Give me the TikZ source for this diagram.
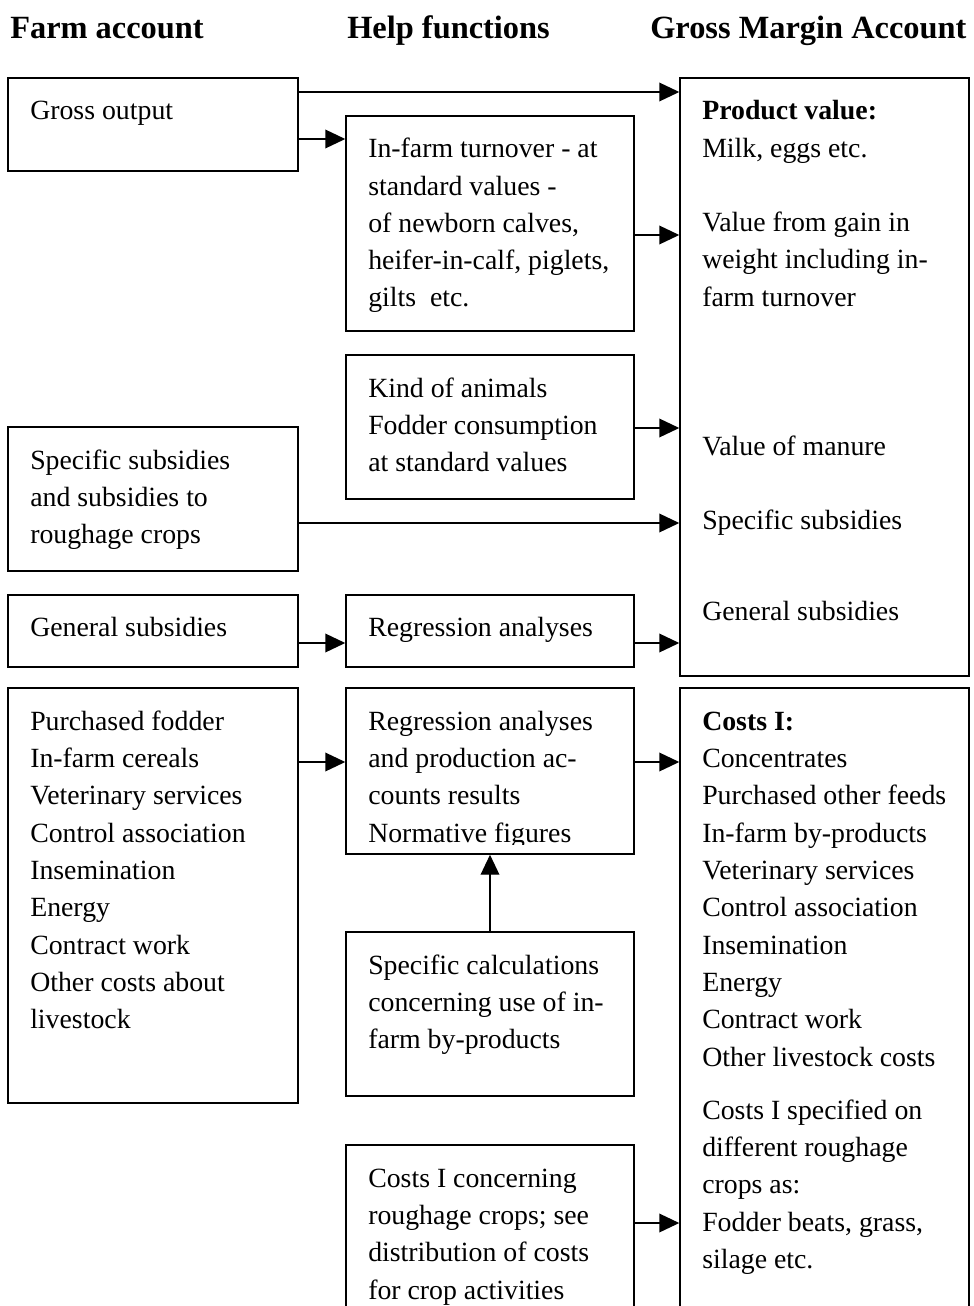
\documentclass[tikz,border=0pt]{standalone}
\usepackage{fontspec}
\setmainfont{Liberation Serif}
\usetikzlibrary{arrows.meta,fit}

\begin{document}
\begin{tikzpicture}[x=0.75pt,y=-0.75pt,
  box/.style={draw,line width=1.1pt,inner sep=0pt,rectangle},
  txt/.style={anchor=north west,inner sep=0pt,align=left,yshift=19.59pt,
    font=\fontsize{20.85pt}{27.98pt}\selectfont},
  head/.style={anchor=base west,inner sep=0pt,font=\fontsize{24.3pt}{29pt}\selectfont\bfseries},
  arr/.style={line width=1.1pt,-{Triangle[length=15pt,width=14pt]}}]
  \useasboundingbox (0,0) rectangle (974,1306);
  \clip (0,0) rectangle (974,1306);

  \node[head] (hfarm) at (10,39) {Farm account};
  \node[head] (hhelp) at (347,39) {Help functions};
  \node[head] (hgross) at (650,39) {Gross Margin Account};

  \node[box,fit={(8,78)(298,171)}] (gross) {};
  \node[box,fit={(346,116)(634,331)}] (turn) {};
  \node[box,fit={(680,78)(969,676)}] (prod) {};
  \node[box,fit={(346,355)(634,499)}] (kind) {};
  \node[box,fit={(8,427)(298,571)}] (ssub) {};
  \node[box,fit={(8,595)(298,667)}] (gsub) {};
  \node[box,fit={(346,595)(634,667)}] (regr) {};
  \node[box,fit={(8,688)(298,1103)}] (purch) {};
  \node[box,fit={(346,688)(634,854)}] (regp) {};
  \node[box,fit={(346,932)(634,1096)}] (spec) {};
  \node[box,fit={(346,1145)(634,1340)}] (crop) {};
  \node[box,fit={(680,688)(969,1340)}] (costs) {};

  \node[txt] (grosst) at (30,119.5) {\strut Gross output};
  \node[txt] (turnt) at (368,157.5) {\strut In-farm turnover - at\\standard values -\\of newborn calves,\\heifer-in-calf, piglets,\\gilts~ etc.};
  \node[txt] (prodt) at (702,119.5) {\strut\textbf{Product value:}\\Milk, eggs etc.\\[27.98pt]Value from gain in\\weight including in-\\farm turnover};
  \node[txt] (manure) at (702,455) {\strut Value of manure};
  \node[txt] (prodss) at (702,529) {\strut Specific subsidies};
  \node[txt] (prodgs) at (702,620) {\strut General subsidies};
  \node[txt] (kindt) at (368,397) {\strut Kind of animals\\Fodder consumption\\at standard values};
  \node[txt] (ssubt) at (30,469) {\strut Specific subsidies\\and subsidies to\\roughage crops};
  \node[txt] (gsubt) at (30,636) {\strut General subsidies};
  \node[txt] (regrt) at (368,636) {\strut Regression analyses};
  \node[txt] (purcht) at (30,730) {\strut Purchased fodder\\In-farm cereals\\Veterinary services\\Control association\\Insemination\\Energy\\Contract work\\Other costs about\\livestock};
  \begin{scope}
    \clip (346,688) rectangle (634,844);
    \node[txt] (regpt) at (368,730) {\strut Regression analyses\\and production ac-\\counts results\\Normative figures};
  \end{scope}
  \node[txt] (spect) at (368,974) {\strut Specific calculations\\concerning use of in-\\farm by-products};
  \node[txt] (cropt) at (368,1187) {\strut Costs I concerning\\roughage crops; see\\distribution of costs\\for crop activities};
  \node[txt] (costst) at (702,730) {\strut\textbf{Costs I:}\\Concentrates\\Purchased other feeds\\In-farm by-products\\Veterinary services\\Control association\\Insemination\\Energy\\Contract work\\Other livestock costs};
  \node[txt] (costsr) at (702,1119) {\strut Costs I specified on\\different roughage\\crops as:\\Fodder beats, grass,\\silage etc.};

  \coordinate (h1) at (0,92);
  \coordinate (h2) at (0,139);
  \coordinate (h3) at (0,235);
  \coordinate (h4) at (0,428);
  \coordinate (h5) at (0,523);
  \coordinate (h6) at (0,643);
  \coordinate (h7) at (0,762);
  \coordinate (h8) at (0,1223);

  \draw[arr] (gross.east |- h1) -- (prod.west |- h1);
  \draw[arr] (gross.east |- h2) -- (turn.west |- h2);
  \draw[arr] (turn.east |- h3) -- (prod.west |- h3);
  \draw[arr] (kind.east |- h4) -- (prod.west |- h4);
  \draw[arr] (ssub.east |- h5) -- (prod.west |- h5);
  \draw[arr] (gsub.east |- h6) -- (regr.west |- h6);
  \draw[arr] (regr.east |- h6) -- (prod.west |- h6);
  \draw[arr] (purch.east |- h7) -- (regp.west |- h7);
  \draw[arr] (regp.east |- h7) -- (costs.west |- h7);
  \draw[arr] (spec.north) -- (regp.south);
  \draw[arr] (crop.east |- h8) -- (costs.west |- h8);
\end{tikzpicture}
\end{document}
